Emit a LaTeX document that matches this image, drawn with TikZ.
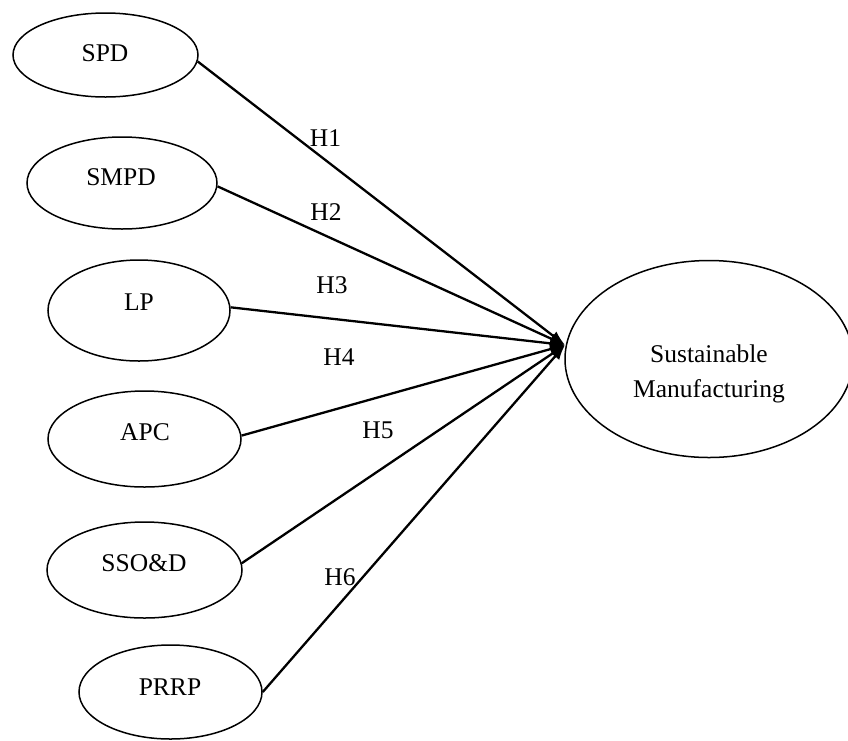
\documentclass[tikz,border=0pt]{standalone}
\usepackage{fontspec}
\setmainfont{Liberation Serif}
\usetikzlibrary{shapes.geometric,arrows.meta}
\begin{document}
\begin{tikzpicture}[x=1pt,y=-1pt,
  construct/.style={draw, ellipse, line width=1.5pt, inner sep=0pt},
  lbl/.style={font=\fontsize{25.5}{35}\selectfont, inner sep=0pt},
  hyp/.style={line width=2.3pt, -{Latex[length=15pt,width=11pt]}}]
\useasboundingbox (0,0) rectangle (848,740);

% exogenous constructs
\node[construct, minimum width=185pt, minimum height=84pt]  (spd)  at (105.5,55)  {};
\node[construct, minimum width=190pt, minimum height=92pt]  (smpd) at (122,183)   {};
\node[construct, minimum width=182pt, minimum height=101pt] (lp)   at (139,310.5) {};
\node[construct, minimum width=193pt, minimum height=96pt]  (apc)  at (144.5,439) {};
\node[construct, minimum width=195pt, minimum height=96pt]  (ssod) at (144.5,570) {};
\node[construct, minimum width=183pt, minimum height=94pt]  (prrp) at (170.5,692) {};

\node[lbl] (spd-t)  at (105,53)  {SPD};
\node[lbl] (smpd-t) at (121,177) {SMPD};
\node[lbl] (lp-t)   at (139,302) {LP};
\node[lbl] (apc-t)  at (145,432) {APC};
\node[lbl] (ssod-t) at (144,563) {SSO\&D};
\node[lbl] (prrp-t) at (170,687) {PRRP};

% endogenous construct
\node[construct, minimum width=288pt, minimum height=197pt] (sm) at (709,359) {};
\node[lbl, align=center] (sm-t) at (709,373.5) {Sustainable\\Manufacturing};

% hypothesised paths
\coordinate (hub) at (565,345);
\draw[hyp] (spd.-4)  -- (hub);
\draw[hyp] (smpd.-2) -- (hub);
\draw[hyp] (lp.2)    -- (hub);
\draw[hyp] (apc.2)   -- (hub);
\draw[hyp] (ssod.4)  -- (hub);
\draw[hyp] (prrp.0)  -- (hub);

\node[lbl] (h1) at (325.5,138) {H1};
\node[lbl] (h2) at (326,212)   {H2};
\node[lbl] (h3) at (332,285)   {H3};
\node[lbl] (h4) at (339,357)   {H4};
\node[lbl] (h5) at (378,430)   {H5};
\node[lbl] (h6) at (340,577)   {H6};
\end{tikzpicture}
\end{document}
